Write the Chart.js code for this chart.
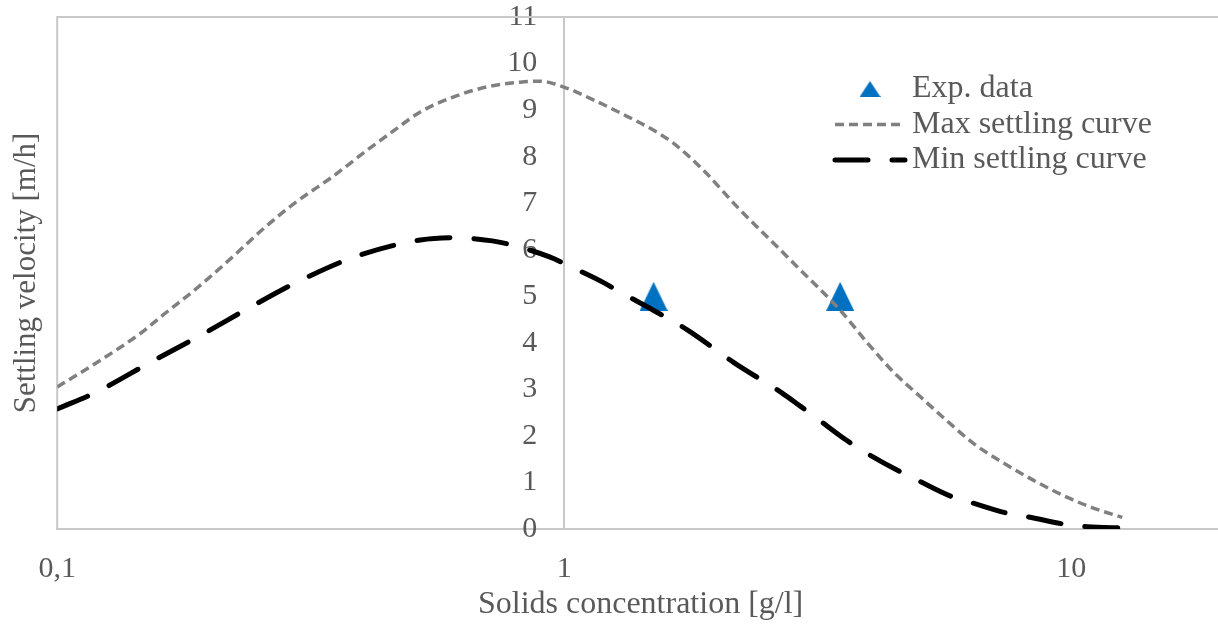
<!DOCTYPE html>
<html>
<head>
<meta charset="utf-8">
<script src="https://cdn.jsdelivr.net/npm/chart.js@4.4.1/dist/chart.umd.min.js"></script>
<style>
  html, body { margin: 0; padding: 0; background: #fff; overflow: hidden; }
  #wrap { width: 1240px; height: 624px; }
</style>
</head>
<body>
<div id="wrap"><canvas id="myChart" width="1240" height="624"></canvas></div>
<script>
// data
const expX = [1.5, 3.5];
const expY = [5, 5];

const maxX = [0.1, 0.1215, 0.1458, 0.1618, 0.1888, 0.2194, 0.255, 0.2922, 0.3502, 0.4087, 0.464, 0.52,
    0.604, 0.705, 0.819, 0.897, 0.995, 1.141, 1.289, 1.498, 1.641, 1.88, 2.193, 2.549, 2.882, 3.5,
    3.96, 4.46, 5.04, 5.69, 6.41, 7.24, 8.41, 9.82, 11.05, 12.6];
const maxY = [3.05, 3.62, 4.2, 4.6, 5.18, 5.8, 6.45, 6.98, 7.58, 8.14, 8.58, 8.96,
    9.28, 9.5, 9.6, 9.62, 9.5, 9.22, 8.94, 8.57, 8.29, 7.71, 6.92, 6.21, 5.63, 4.7,
    4.0, 3.37, 2.84, 2.32, 1.84, 1.46, 1.05, 0.68, 0.45, 0.25];

const minX = [0.1, 0.1199, 0.1526, 0.1932, 0.2435, 0.3057, 0.3871, 0.52, 0.604, 0.721, 0.79, 0.938,
    1.014, 1.188, 1.289, 1.498, 1.748, 2.164, 2.69, 2.92, 3.13, 3.61, 3.92, 4.56, 4.97, 5.83,
    6.38, 7.48, 8.23, 9.73, 10.75, 12.7];
const minY = [2.58, 2.95, 3.58, 4.18, 4.8, 5.37, 5.85, 6.21, 6.26, 6.19, 6.1, 5.84,
    5.67, 5.31, 5.09, 4.7, 4.28, 3.57, 2.92, 2.64, 2.4, 1.9, 1.65, 1.25, 1.05, 0.69,
    0.56, 0.34, 0.26, 0.1, 0.05, 0.02];

const seriesNames = ['Exp. data', 'Max settling curve', 'Min settling curve'];
const xTickValues = [0.1, 1, 10];
const xTickLabels = ['0,1', '1', '10'];
const yTicksAt = 0.885; // y tick labels sit just left of the x = 1 line

const FONT = "'Liberation Serif', 'Times New Roman', serif";
const TEXT = '#595959';
const LINE = '#c8c8c8';

function pts(xs, ys) {
    return xs.map((x, i) => ({ x: x, y: ys[i] }));
}

// triangle marker sprite (isosceles, centred on its box)
function triangle(w, h, color) {
    const c = document.createElement('canvas');
    c.width = w;
    c.height = h;
    const g = c.getContext('2d');
    g.fillStyle = color;
    g.beginPath();
    g.moveTo(w / 2, 0);
    g.lineTo(w, h);
    g.lineTo(0, h);
    g.closePath();
    g.fill();
    return c;
}
const bigTri = triangle(28, 29, '#0070c0');
const smallTri = triangle(21, 16, '#0070c0');

// plot area border (top and left)
const plotBorder = {
    id: 'plotBorder',
    beforeDatasetsDraw(chart) {
        const { ctx, chartArea: a } = chart;
        ctx.save();
        ctx.strokeStyle = LINE;
        ctx.lineWidth = 2;
        ctx.beginPath();
        ctx.moveTo(a.left, a.bottom);
        ctx.lineTo(a.left, a.top);
        ctx.lineTo(a.right + 2, a.top);
        ctx.stroke();
        ctx.restore();
    }
};

// legend drawn inside the plot, Excel style
const insideLegend = {
    id: 'insideLegend',
    afterDraw(chart) {
        const { ctx } = chart;
        const rows = [89, 124.5, 160];
        const x0 = 835, w = 70, tx = 912;
        ctx.save();
        chart.data.datasets.forEach((ds, i) => {
            const y = rows[i];
            if (ds.showLine === false) {
                ctx.drawImage(smallTri, 870 - smallTri.width / 2, y - smallTri.height / 2);
            } else {
                ctx.save();
                ctx.strokeStyle = ds.borderColor;
                ctx.lineWidth = ds.borderWidth;
                ctx.lineCap = ds.borderCapStyle || 'butt';
                ctx.setLineDash(ds.borderDash || []);
                ctx.beginPath();
                ctx.moveTo(x0, y);
                ctx.lineTo(x0 + w, y);
                ctx.stroke();
                ctx.restore();
            }
            ctx.fillStyle = TEXT;
            ctx.font = '32px ' + FONT;
            ctx.textBaseline = 'middle';
            ctx.textAlign = 'left';
            ctx.fillText(ds.label, tx, y);
        });
        ctx.restore();
    }
};

const ctx = document.getElementById('myChart').getContext('2d');
const myChart = new Chart(ctx, {
    type: 'scatter',
    data: {
        datasets: [{
            label: seriesNames[0],
            data: pts(expX, expY),
            showLine: false,
            pointStyle: bigTri,
            pointRadius: 14,
            order: 3
        }, {
            label: seriesNames[1],
            data: pts(maxX, maxY),
            showLine: true,
            borderColor: '#808080',
            borderWidth: 3.5,
            borderDash: [9, 5],
            pointRadius: 0,
            cubicInterpolationMode: 'monotone',
            order: 2
        }, {
            label: seriesNames[2],
            data: pts(minX, minY),
            showLine: true,
            borderColor: '#000000',
            borderWidth: 5,
            borderDash: [33, 24],
            borderCapStyle: 'round',
            pointRadius: 0,
            cubicInterpolationMode: 'monotone',
            order: 1
        }]
    },
    options: {
        responsive: false,
        animation: false,
        layout: { padding: { top: 17, right: 16, bottom: 0, left: 0 } },
        scales: {
            x: {
                type: 'logarithmic',
                position: 'bottom',
                min: 0.1,
                max: 20,
                afterBuildTicks: (axis) => {
                    axis.ticks = xTickValues.map(v => ({ value: v }));
                },
                afterFit: (axis) => {
                    axis.height = 95;
                    axis.paddingLeft = 0;
                    axis.paddingRight = 0;
                },
                grid: {
                    display: true,
                    drawTicks: false,
                    lineWidth: 2,
                    color: (c) => (c.tick && c.tick.value === 1 ? LINE : 'rgba(0,0,0,0)')
                },
                border: { display: true, color: LINE, width: 2 },
                ticks: {
                    autoSkip: false,
                    maxRotation: 0,
                    padding: 25,
                    color: TEXT,
                    font: { family: FONT, size: 30, lineHeight: 1 },
                    callback: (value) => {
                        const i = xTickValues.indexOf(value);
                        return i >= 0 ? xTickLabels[i] : '';
                    }
                },
                title: {
                    display: true,
                    text: 'Solids concentration [g/l]',
                    color: TEXT,
                    font: { family: FONT, size: 32, lineHeight: 1.2 },
                    padding: { top: 0, bottom: 0 }
                }
            },
            y: {
                type: 'linear',
                position: { x: yTicksAt },
                min: 0,
                max: 11,
                afterFit: (axis) => {
                    axis.paddingTop = 0;
                    axis.paddingBottom = 0;
                },
                grid: { display: false, drawTicks: false },
                border: { display: false },
                ticks: {
                    stepSize: 1,
                    padding: 0,
                    color: TEXT,
                    font: { family: FONT, size: 30, lineHeight: 1 }
                }
            }
        },
        plugins: {
            legend: { display: false },
            tooltip: { enabled: false },
            title: {
                display: true,
                position: 'left',
                fullSize: false,
                text: 'Settling velocity [m/h]',
                color: TEXT,
                font: { family: FONT, size: 31, weight: 'normal', lineHeight: 1.2 },
                padding: { top: 8, bottom: 12 }
            }
        }
    },
    plugins: [plotBorder, insideLegend]
});
</script>
</body>
</html>
